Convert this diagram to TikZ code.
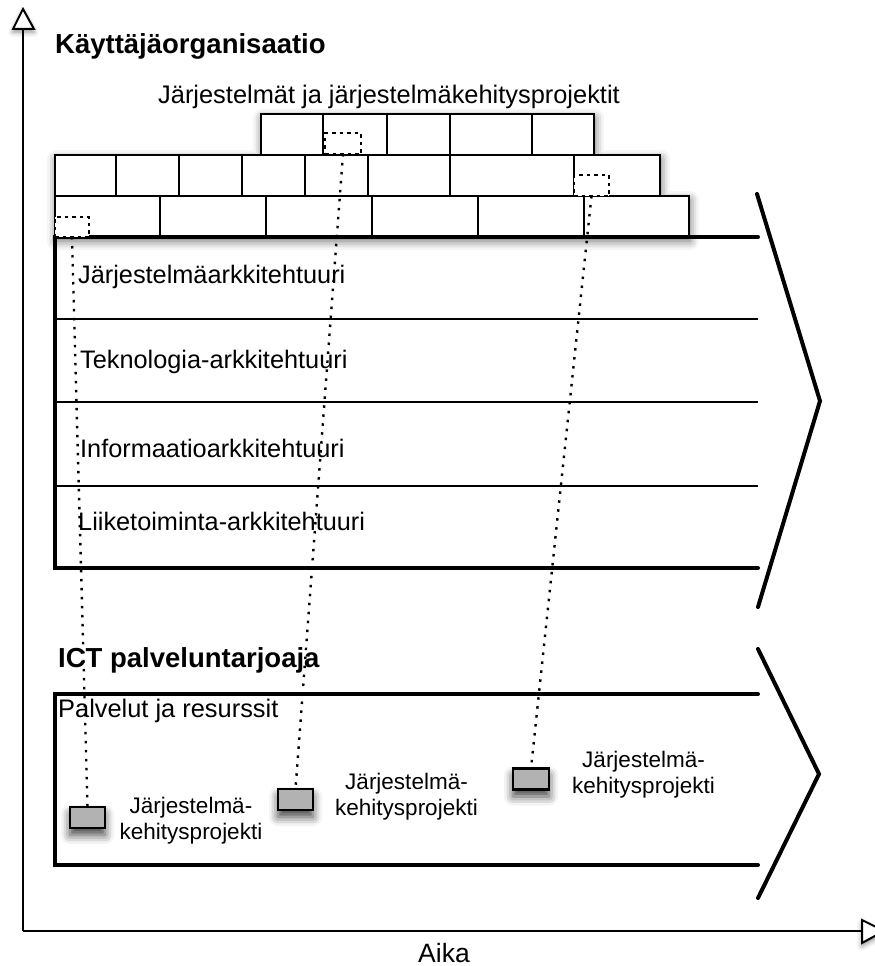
\documentclass[tikz,border=0pt]{standalone}
\usepackage{fontspec}
\setmainfont{Liberation Sans}
\usetikzlibrary{shadows.blur}

\tikzset{
  axisline/.style={line width=2pt},
  arrowhead/.style={fill=white, draw=black, line width=2pt, line join=miter,
    blur shadow={shadow xshift=0pt, shadow yshift=-3pt, shadow blur radius=5pt, shadow opacity=45}},
  wallshadow/.style={fill=white,
    blur shadow={shadow xshift=1pt, shadow yshift=-4pt, shadow blur radius=9pt, shadow opacity=60}},
  brick/.style={draw=black, fill=white, line width=2pt},
  frame/.style={line width=4pt, line cap=round, line join=miter},
  layerline/.style={line width=2pt},
  heading/.style={anchor=base west, inner sep=0pt, font=\fontsize{27.5}{33}\selectfont\bfseries},
  label/.style={anchor=base west, inner sep=0pt, font=\fontsize{25.4}{30}\selectfont},
  layerlabel/.style={anchor=base west, inner sep=0pt, font=\fontsize{25.3}{30}\selectfont},
  projlabel/.style={align=center, inner sep=0pt, font=\fontsize{22.5}{26}\selectfont},
  dashbox/.style={draw=black, fill=white, line width=1.6pt, dash pattern=on 3.5pt off 4pt,
    inner sep=0pt, outer sep=0pt, minimum width=35pt, minimum height=21pt},
  projbox/.style={draw=black, fill=black!30, line width=2.5pt, inner sep=0pt, outer sep=0pt,
    minimum width=35pt, minimum height=21pt,
    blur shadow={shadow xshift=0pt, shadow yshift=-7pt, shadow blur radius=9pt, shadow opacity=75}},
  dotline/.style={line width=2.4pt, dash pattern=on 2.5pt off 6.5pt},
}

\begin{document}
\begin{tikzpicture}[x=1pt, y=-1pt]
\useasboundingbox (0,0) rectangle (875,966);

% time / organisation axes
\coordinate (origin) at (23,931);
\coordinate (ytop) at (23,29);
\coordinate (xend) at (862,931);
\draw[axisline] (origin) -- (ytop);
\draw[axisline] (origin) -- (xend);
\path[arrowhead] (13,29) -- (23,9) -- (34,29) -- cycle;
\path[arrowhead] (862,920) -- (884,931) -- (862,943) -- cycle;

% brick wall of systems and projects
\path[wallshadow] (55,237) -- (689,237) -- (689,196) -- (660,196) -- (660,155)
  -- (594,155) -- (594,114) -- (261,114) -- (261,155) -- (55,155) -- cycle;
\foreach \a/\b in {55/160,160/266,266/372,372/478,478/584,584/689}
  \draw[brick] (\a,196) rectangle (\b,237);
\foreach \a/\b in {55/116,116/179,179/242,242/305,305/368,368/450,450/574,574/660}
  \draw[brick] (\a,155) rectangle (\b,196);
\foreach \a/\b in {261/323,323/387,387/450,450/532,532/594}
  \draw[brick] (\a,114) rectangle (\b,155);

% architecture layers
\foreach \y in {319,402,486}
  \draw[layerline] (55,\y) -- (758,\y);
\draw[frame] (758,237) -- (55,237) -- (55,568) -- (758,568);
\draw[frame] (757,194) -- (820,401) -- (758,607);

% service provider band
\draw[frame] (758,694) -- (55,694) -- (55,865) -- (758,865);
\draw[frame] (758,649) -- (819,774) -- (758,898);

% texts
\node[heading] (org) at (55,54) {Käyttäjäorganisaatio};
\node[label] (sys) at (158,103) {Järjestelmät ja järjestelmäkehitysprojektit};
\node[layerlabel] (l1) at (78,283) {Järjestelmäarkkitehtuuri};
\node[layerlabel] (l2) at (80,368) {Teknologia-arkkitehtuuri};
\node[layerlabel] (l3) at (80,457) {Informaatioarkkitehtuuri};
\node[layerlabel] (l4) at (78,530) {Liiketoiminta-arkkitehtuuri};
\node[heading] (ict) at (58,667) {ICT palveluntarjoaja};
\node[label] (pal) at (58,717) {Palvelut ja resurssit};
\node[label, anchor=base, font=\fontsize{26.5}{32}\selectfont] (aika) at (444,962) {Aika};

% project markers inside the wall
\node[dashbox, minimum width=34pt, minimum height=20pt] (d1) at (72,227) {};
\node[dashbox, minimum width=36pt] (d2) at (343,143.5) {};
\node[dashbox] (d3) at (591.5,185.5) {};

% project boxes at the provider
\node[projbox] (g1) at (87.5,817.5) {};
\node[projbox] (g2) at (295.5,799.5) {};
\node[projbox, minimum width=36pt] (g3) at (531,779) {};

\node[projlabel] (p1) at (191,821) {Järjestelmä-\\kehitysprojekti};
\node[projlabel] (p2) at (406.5,797) {Järjestelmä-\\kehitysprojekti};
\node[projlabel] (p3) at (643.5,775) {Järjestelmä-\\kehitysprojekti};

% links from wall to projects
\draw[dotline] (d1.south) -- (g1.north);
\draw[dotline] (d2.south) -- (g2.north);
\draw[dotline] (d3.south) -- (g3.north);
\end{tikzpicture}
\end{document}
